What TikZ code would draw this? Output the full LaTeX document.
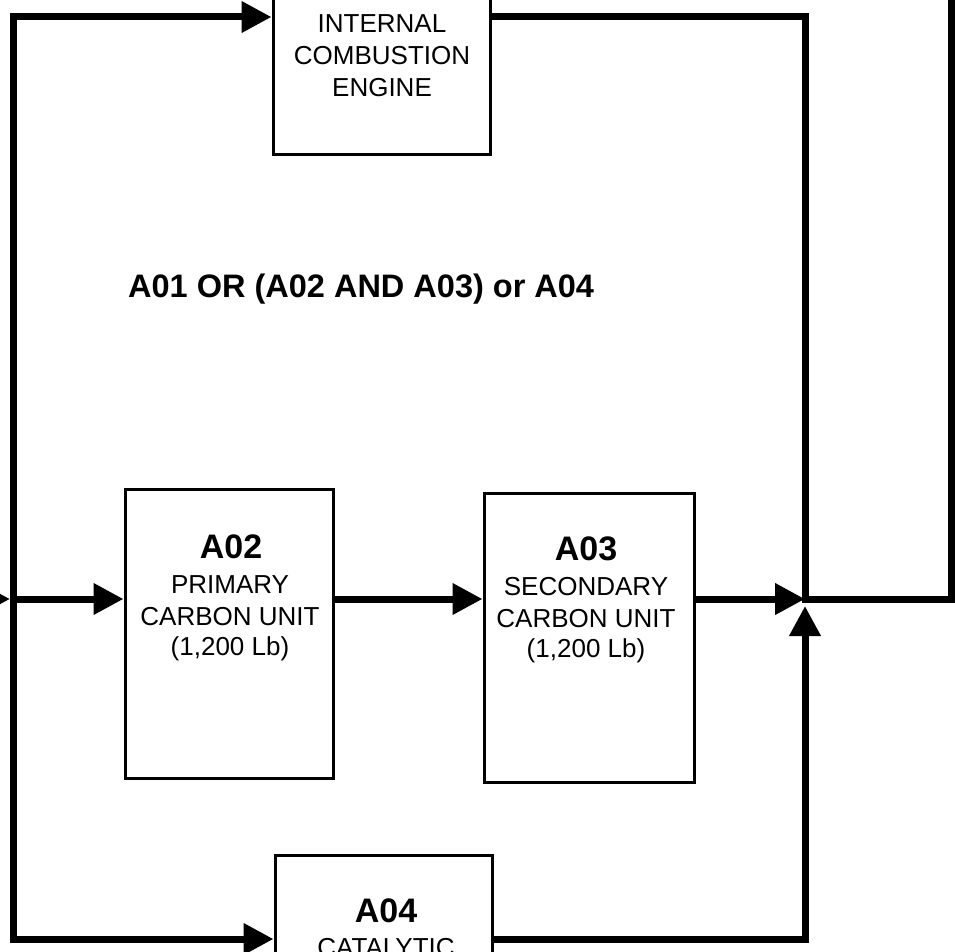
\documentclass[tikz,border=0pt]{standalone}
\usepackage{fontspec}
\setmainfont{Liberation Sans}
\usetikzlibrary{arrows.meta}
\begin{document}
\begin{tikzpicture}[x=1pt,y=-1pt,
  >={Triangle[length=30pt,width=30pt]},
  conn/.style={line width=7pt, line join=miter},
  box/.style={draw, line width=3pt, rectangle, inner sep=0pt},
  lbl/.style={font=\fontsize{26}{30}\selectfont, anchor=base, inner sep=0pt},
  hd/.style={font=\bfseries\fontsize{34}{36}\selectfont, anchor=base, inner sep=0pt},
  ttl/.style={font=\bfseries\fontsize{32.5}{36}\selectfont, anchor=base west, inner sep=0pt}]
\fill[white] (0,0) rectangle (955,952);
\useasboundingbox (0,0) rectangle (955,952);
\clip (0,0) rectangle (955,952);

% boxes
\node[box, minimum width=217pt, minimum height=180pt] (eng) at (381.5,65) {};
\node[box, minimum width=208pt, minimum height=289pt] (a02) at (229,633.5) {};
\node[box, minimum width=210pt, minimum height=289pt] (a03) at (589,637.5) {};
\node[box, minimum width=217pt, minimum height=180pt] (a04) at (383.5,945) {};

% texts
\node[lbl] (e1) at (382,33) {INTERNAL};
\node[lbl] (e2) at (382,65) {COMBUSTION};
\node[lbl] (e3) at (382,97) {ENGINE};

\node[ttl] (title) at (128,297) {A01 OR (A02 AND A03) or A04};

\node[hd]  (b0) at (231,558) {A02};
\node[lbl] (b1) at (230,593) {PRIMARY};
\node[lbl] (b2) at (230,625) {CARBON UNIT};
\node[lbl] (b3) at (230,655) {(1,200 Lb)};

\node[hd]  (c0) at (586,560) {A03};
\node[lbl] (c1) at (586,595) {SECONDARY};
\node[lbl] (c2) at (586,627) {CARBON UNIT};
\node[lbl] (c3) at (586,657) {(1,200 Lb)};

\node[hd]  (d0) at (386,922) {A04};
\node[lbl] (d1) at (386,956) {CATALYTIC};

% coordinates
\coordinate (lt) at (13,17);
\coordinate (lb) at (13,939);
\coordinate (li) at (13,599);
\coordinate (src) at (-60,599);
\coordinate (rt) at (805,17);
\coordinate (J) at (805,599);
\coordinate (Jb) at (805,939);
\coordinate (Jt) at (805,606);
\coordinate (ro) at (951,599);
\coordinate (out) at (951,-40);

% connectors
\draw[conn,<->] (eng.west |- lt) -- (lt) -- (lb) -- (a04.west |- lb);
\draw[conn,->] (src) -- ([xshift=-3pt]li);
\draw[conn,->] (li) -- (a02.west |- li);
\draw[conn,->] (a02.east |- li) -- (a03.west |- li);
\draw[conn,->] (a03.east |- li) -- (J);
\draw[conn] (eng.east |- rt) -- (rt) -- (J) -- (ro) -- (out);
\draw[conn,->] (a04.east |- Jb) -- (Jb) -- (Jt);
\end{tikzpicture}
\end{document}
